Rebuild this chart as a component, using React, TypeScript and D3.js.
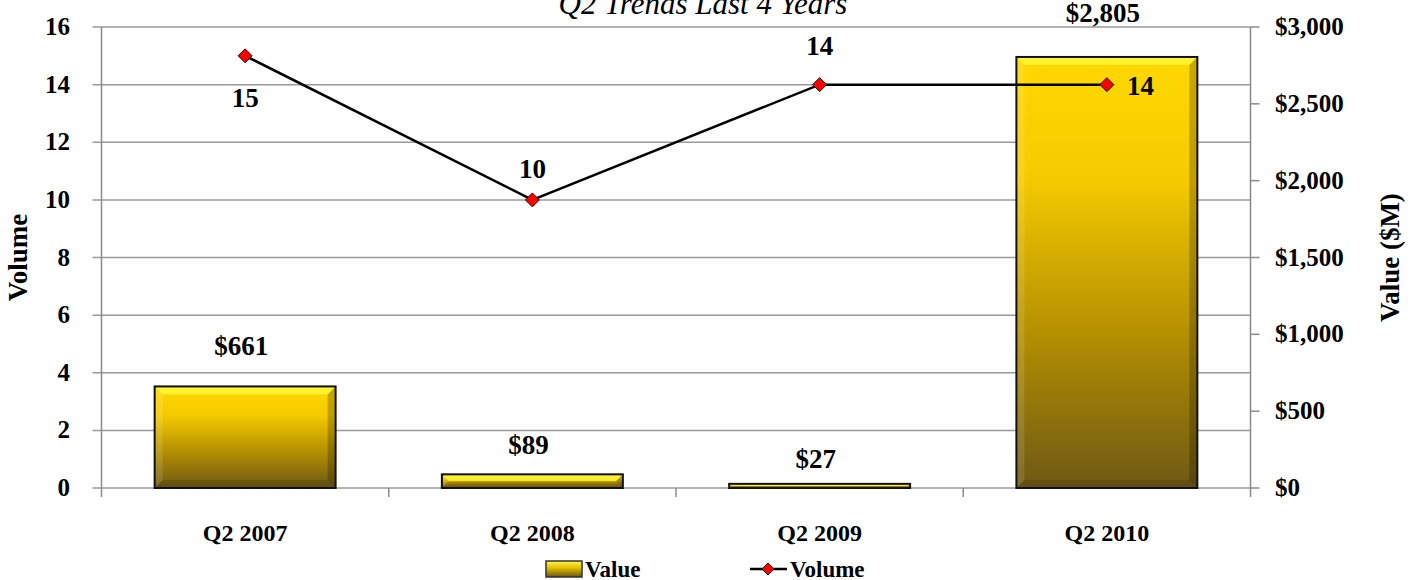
import React from 'react'
import * as d3 from 'd3'

const categories = ['Q2 2007', 'Q2 2008', 'Q2 2009', 'Q2 2010']
const values = [661, 89, 27, 2805]
const volumes = [15, 10, 14, 14]
const volumeTicks = [0, 2, 4, 6, 8, 10, 12, 14, 16]
const valueTicks = [0, 500, 1000, 1500, 2000, 2500, 3000]

// label placement (px offsets from the mark)
const valueLabelLift = [31, 20, 16, 35]
const volumeLabelOffset: [number, number, string][] = [
    [0, 51, 'middle'],
    [0, -22, 'middle'],
    [0, -30, 'middle'],
    [20, 10, 'start'],
]

const W = 1415
const H = 580
const left = 101.5
const right = 1250.5
const top = 27
const bottom = 488
const FONT = '"Liberation Serif", "Times New Roman", serif'

const money = (v: number) => '$' + d3.format(',')(v)

const Bar = ({ x, y, w, h }: { x: number; y: number; w: number; h: number }) => {
    const b = Math.min(8, h / 2, w / 2)
    const x1 = x + w
    const y1 = y + h
    return (
        <g>
            <rect x={x} y={y} width={w} height={h} fill="url(#barGrad)" />
            {/* bevel edges */}
            <polygon points={`${x},${y} ${x1},${y} ${x1 - b},${y + b} ${x + b},${y + b}`} fill="#ffff40" opacity={0.7} />
            <polygon points={`${x},${y} ${x + b},${y + b} ${x + b},${y1 - b} ${x},${y1}`} fill="#ffffff" opacity={0.12} />
            <polygon points={`${x1},${y} ${x1},${y1} ${x1 - b},${y1 - b} ${x1 - b},${y + b}`} fill="#000" opacity={0.22} />
            <polygon points={`${x},${y1} ${x1},${y1} ${x1 - b},${y1 - b} ${x + b},${y1 - b}`} fill="#000" opacity={0.12} />
            <rect x={x} y={y} width={w} height={h} fill="none" stroke="#111" strokeWidth={2} />
        </g>
    )
}

const Diamond = ({ cx, cy, r = 7 }: { cx: number; cy: number; r?: number }) => (
    <polygon
        points={`${cx},${cy - r} ${cx + r},${cy} ${cx},${cy + r} ${cx - r},${cy}`}
        fill="#ff0000"
        stroke="#111"
        strokeWidth={1}
    />
)

export default function App() {
    const x = d3.scaleBand<string>().domain(categories).range([left, right]).paddingInner(0.37).paddingOuter(0.185)
    const yVol = d3.scaleLinear().domain([0, 16]).range([bottom, top])
    const yVal = d3.scaleLinear().domain([0, 3000]).range([bottom, top])
    const step = x.step()
    const cx = (c: string) => (x(c) as number) + x.bandwidth() / 2

    const line = d3
        .line<number>()
        .x((_, i) => cx(categories[i]))
        .y((d) => yVol(d))

    return (
        <svg width={W} height={H} style={{ position: 'absolute', left: 0, top: 0, background: '#fff' }} fontFamily={FONT} fontWeight="bold">
            <defs>
                <linearGradient id="barGrad" x1="0" y1="0" x2="0" y2="1">
                    <stop offset="0%" stopColor="#ffd800" />
                    <stop offset="28%" stopColor="#f5cb00" />
                    <stop offset="62%" stopColor="#b89300" />
                    <stop offset="100%" stopColor="#6e5814" />
                </linearGradient>
                <linearGradient id="legGrad" x1="0" y1="0" x2="0" y2="1">
                    <stop offset="0%" stopColor="#fff64a" />
                    <stop offset="45%" stopColor="#e0bc00" />
                    <stop offset="100%" stopColor="#6b5512" />
                </linearGradient>
            </defs>

            {/* title, cut at the top edge as in the original */}
            <text x={703} y={14} textAnchor="middle" fontStyle="italic" fontWeight="normal" fontSize={31} fill="#000">
                Q2 Trends Last 4 Years
            </text>

            {/* gridlines + left axis */}
            {volumeTicks.map((t) => (
                <g key={t}>
                    <line x1={left - 9} x2={right} y1={yVol(t)} y2={yVol(t)} stroke="#9a9a9a" strokeWidth={1.5} />
                    <text x={70} y={yVol(t) + 8} textAnchor="end" fontSize={25}>
                        {t}
                    </text>
                </g>
            ))}
            <line x1={left} x2={left} y1={top} y2={bottom + 9} stroke="#8a8a8a" strokeWidth={1.5} />

            {/* right axis */}
            <line x1={right} x2={right} y1={top} y2={bottom + 9} stroke="#8a8a8a" strokeWidth={1.5} />
            {valueTicks.map((t) => (
                <g key={t}>
                    <line x1={right} x2={right + 9} y1={yVal(t)} y2={yVal(t)} stroke="#8a8a8a" strokeWidth={1.5} />
                    <text x={1275} y={yVal(t) + 8} textAnchor="start" fontSize={25}>
                        {money(t)}
                    </text>
                </g>
            ))}

            {/* bottom axis category ticks */}
            {categories.slice(1).map((c) => {
                const bx = (x(c) as number) - (step - x.bandwidth()) / 2
                return <line key={c} x1={bx} x2={bx} y1={bottom} y2={bottom + 9} stroke="#8a8a8a" strokeWidth={1.5} />
            })}
            {categories.map((c) => (
                <text key={c} x={cx(c)} y={541} textAnchor="middle" fontSize={24}>
                    {c}
                </text>
            ))}

            {/* bars */}
            {values.map((v, i) => (
                <Bar key={i} x={x(categories[i]) as number} y={yVal(v)} w={x.bandwidth()} h={bottom - yVal(v)} />
            ))}
            {values.map((v, i) => (
                <text key={'vl' + i} x={cx(categories[i]) - 4} y={yVal(v) - valueLabelLift[i]} textAnchor="middle" fontSize={27}>
                    {money(v)}
                </text>
            ))}

            {/* volume line */}
            <path d={line(volumes) || ''} fill="none" stroke="#000" strokeWidth={2.5} />
            {volumes.map((v, i) => (
                <Diamond key={'d' + i} cx={cx(categories[i])} cy={yVol(v)} />
            ))}
            {volumes.map((v, i) => {
                const [dx, dy, anchor] = volumeLabelOffset[i]
                return (
                    <text key={'ml' + i} x={cx(categories[i]) + dx} y={yVol(v) + dy} textAnchor={anchor} fontSize={27}>
                        {v}
                    </text>
                )
            })}

            {/* axis titles */}
            <text transform={`translate(27,${(top + bottom) / 2}) rotate(-90)`} textAnchor="middle" fontSize={27}>
                Volume
            </text>
            <text transform={`translate(1399,${(top + bottom) / 2}) rotate(-90)`} textAnchor="middle" fontSize={27}>
                Value ($M)
            </text>

            {/* legend */}
            <g>
                <rect x={546} y={561} width={36} height={16} fill="url(#legGrad)" stroke="#333" strokeWidth={1.5} />
                <text x={585} y={577} fontSize={23}>
                    Value
                </text>
                <line x1={750} x2={787} y1={569} y2={569} stroke="#000" strokeWidth={2.5} />
                <Diamond cx={768} cy={569} r={6} />
                <text x={790} y={577} fontSize={23}>
                    Volume
                </text>
            </g>
        </svg>
    )
}
